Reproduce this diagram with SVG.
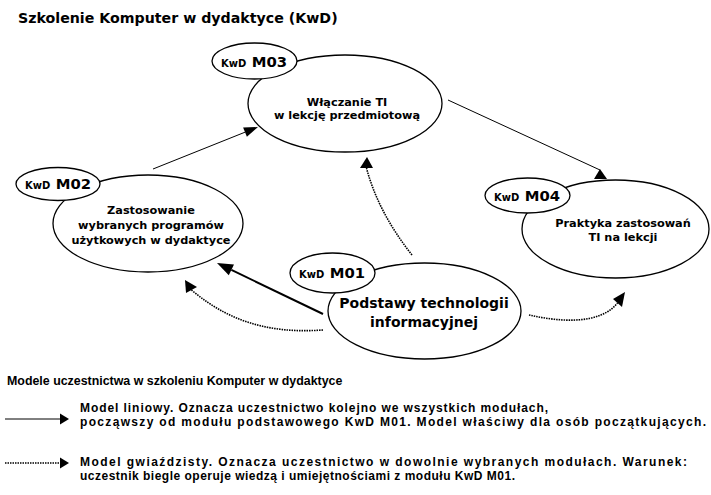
<svg xmlns="http://www.w3.org/2000/svg" width="711" height="495" viewBox="0 0 711 495">
<style>
.big{fill:#fff;stroke:#000;stroke-width:1.3}
.sm{fill:#fff;stroke:#000;stroke-width:1.3}
.t{font-family:"DejaVu Sans",Verdana,sans-serif;font-weight:bold;text-anchor:middle;fill:#000}
.et{font-size:11.3px}
.k{font-size:10px}
.m{font-size:14.8px}
.solid{fill:none;stroke:#000;stroke-width:1}
.thick{fill:none;stroke:#000;stroke-width:2}
.dot{fill:none;stroke:#000;stroke-width:1.6;stroke-dasharray:1.5 1}
.lg{font-family:"Liberation Sans",Arial,sans-serif;font-weight:bold;font-size:12px;fill:#000}
</style>
<text x="18" y="23" font-family="DejaVu Sans, Verdana, sans-serif" font-weight="bold" font-size="14.2px">Szkolenie Komputer w dydaktyce (KwD)</text>

<g id="M03">
<ellipse class="big" cx="345" cy="103.5" rx="97" ry="48.5"/>
<ellipse class="sm" cx="254.5" cy="61" rx="42.5" ry="18"/>
<text class="t" x="254" y="67"><tspan class="k">KwD</tspan> <tspan class="m">M03</tspan></text>
<text class="t et" x="347" y="106">Włączanie TI</text>
<text class="t et" x="347" y="119">w lekcję przedmiotową</text>
</g>

<g id="M02">
<ellipse class="big" cx="148" cy="223.5" rx="95" ry="48.5"/>
<ellipse class="sm" cx="58" cy="184" rx="42" ry="16.5"/>
<text class="t" x="58" y="189"><tspan class="k">KwD</tspan> <tspan class="m">M02</tspan></text>
<text class="t et" x="151" y="214">Zastosowanie</text>
<text class="t et" x="151" y="229">wybranych programów</text>
<text class="t et" x="151" y="244">użytkowych w dydaktyce</text>
</g>

<g id="M04">
<ellipse class="big" cx="615.5" cy="229" rx="93.5" ry="49"/>
<ellipse class="sm" cx="527.5" cy="195.5" rx="42.5" ry="17.5"/>
<text class="t" x="527" y="201"><tspan class="k">KwD</tspan> <tspan class="m">M04</tspan></text>
<text class="t et" x="623" y="227">Praktyka zastosowań</text>
<text class="t et" x="623" y="241">TI na lekcji</text>
</g>

<g id="M01">
<ellipse class="big" cx="424.5" cy="311" rx="96.5" ry="48"/>
<ellipse class="sm" cx="332.5" cy="273" rx="42.5" ry="20"/>
<text class="t" x="332" y="278"><tspan class="k">KwD</tspan> <tspan class="m">M01</tspan></text>
<text class="t" x="424" y="308" font-size="14px">Podstawy technologii</text>
<text class="t" x="424" y="327" font-size="14px">informacyjnej</text>
</g>

<g id="connectors">
<line class="solid" x1="153" y1="169" x2="245" y2="132.2"/>
<polygon points="258,127 246.9,136.8 243.1,127.6"/>
<line class="solid" x1="448" y1="100" x2="600" y2="170"/>
<polygon points="600,169 594,179 607,179"/>
<path class="dot" d="M412,255 Q378,212 366.5,168"/>
<polygon points="367,157 360,168 373,168"/>
<line class="thick" x1="323" y1="314" x2="231.4" y2="269.9"/>
<polygon points="217,263 234,264.5 228.8,275.3"/>
<path class="dot" d="M323,330 C280,333 235,327 191.5,290"/>
<polygon points="185,280 186,293 197,287"/>
<path class="dot" d="M529,315 C560,322 600,325 617.5,303"/>
<polygon points="625,292 613,299 622,307"/>
</g>

<g id="legend">
<text x="7" y="385" font-family="Liberation Sans, Arial, sans-serif" font-weight="bold" font-size="12.4px">Modele uczestnictwa w szkoleniu Komputer w dydaktyce</text>
<line class="solid" x1="5" y1="419" x2="61" y2="419"/>
<polygon points="60,413.5 60,424.5 69,419"/>
<text class="lg" x="80" y="412" textLength="468" lengthAdjust="spacing">Model liniowy. Oznacza uczestnictwo kolejno we wszystkich modułach,</text>
<text class="lg" x="80" y="426" textLength="626" lengthAdjust="spacing">począwszy od modułu podstawowego KwD M01. Model właściwy dla osób początkujących.</text>
<line class="dot" x1="5" y1="463" x2="61" y2="463"/>
<polygon points="60,457.5 60,468.5 69,463"/>
<text class="lg" x="80" y="466" textLength="607" lengthAdjust="spacing">Model gwiaździsty. Oznacza uczestnictwo w dowolnie wybranych modułach. Warunek:</text>
<text class="lg" x="80" y="480" textLength="435" lengthAdjust="spacing">uczestnik biegle operuje wiedzą i umiejętnościami z modułu KwD M01.</text>
</g>
</svg>
